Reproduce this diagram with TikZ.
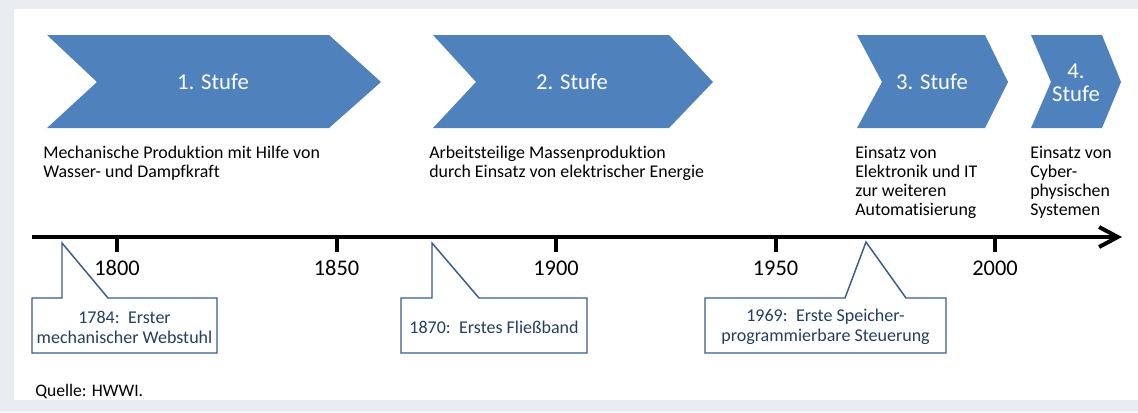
\documentclass[tikz,border=0pt]{standalone}
\usepackage{fontspec}
\setmainfont{Carlito}[Ligatures=NoCommon]
\usetikzlibrary{arrows.meta}
\definecolor{stufe}{HTML}{4F81BD}
\definecolor{rahmen}{HTML}{385D8A}
\definecolor{notizfarbe}{HTML}{243F60}
\definecolor{hinter}{HTML}{E9EDF2}
\tikzset{
  titel/.style={text=white,align=center,font=\fontsize{17}{17.25}\selectfont},
  beschr/.style={anchor=north west,inner sep=0pt,align=left,font=\fontsize{13.4}{14.25}\selectfont},
  jahr/.style={anchor=base,inner sep=0pt,font=\fontsize{16.8}{19}\selectfont},
  notiz/.style={fill=white,draw=rahmen,line width=1.1pt},
  notiztext/.style={text=notizfarbe,align=center,inner sep=0pt,font=\fontsize{13.5}{15}\selectfont},
}
\begin{document}
\begin{tikzpicture}[x=0.75pt,y=-0.75pt]
      \useasboundingbox (0,0) rectangle (1138,412);
      \path[fill=hinter] (0,0) rectangle (1138,412);
      \path[fill=white] (14,9) rectangle (1138,400);

      \path[fill=stufe] (47,35) -- (329,35) -- (381,82) -- (329,128) -- (47,128) -- (97,82) -- cycle;
      \path[fill=stufe] (433,35) -- (669,35) -- (713,82) -- (669,128) -- (433,128) -- (476,82) -- cycle;
      \path[fill=stufe] (857,35) -- (985,35) -- (1008,82) -- (985,128) -- (857,128) -- (882,82) -- cycle;
      \path[fill=stufe] (1031,35) -- (1102,35) -- (1121,82) -- (1102,128) -- (1031,128) -- (1051,82) -- cycle;
      \node[titel] (stufe1) at (213,82) {1. Stufe};
      \node[titel] (stufe2) at (572,82) {2. Stufe};
      \node[titel] (stufe3) at (932,82) {3. Stufe};
      \node[titel] (stufe4) at (1076,83) {4.\\Stufe};

      \node[beschr] (text1) at (43,146) {Mechanische Produktion mit Hilfe von\\Wasser- und Dampfkraft};
      \node[beschr] (text2) at (429,146) {Arbeitsteilige Massenproduktion\\durch Einsatz von elektrischer Energie};
      \node[beschr] (text3) at (855,146) {Einsatz von\\Elektronik und IT\\zur weiteren\\Automatisierung};
      \node[beschr] (text4) at (1030,146) {Einsatz von\\Cyber-\\physischen\\Systemen};

      \coordinate (start) at (32,237);
      \coordinate (ende) at (1122,237);
      \draw[line width=3pt,-{Straight Barb[length=14pt,width=15pt]}] (start) -- (ende);
      \foreach \j in {1800,1850,1900,1950,2000}{
        \draw[line width=3pt] ({117+(\j-1800)*4.39},237) -- ++(0,15);
        \node[jahr] (jahr\j) at ({117+(\j-1800)*4.39},275) {\j};
      }

      \path[notiz] (32,298) -- (62,298) -- (62,243) -- (108,298) -- (217,298) -- (217,353) -- (32,353) -- cycle;
      \path[notiz] (401,298) -- (432,298) -- (432,243) -- (479,298) -- (587,298) -- (587,353) -- (401,353) -- cycle;
      \path[notiz] (705,298) -- (845,298) -- (866,242) -- (906,298) -- (946,298) -- (946,353) -- (705,353) -- cycle;
      \node[notiztext] (notiz1) at (124.5,327) {1784:\, Erster\\mechanischer Webstuhl};
      \node[notiztext] (notiz2) at (494,327) {1870:\, Erstes Fließband};
      \node[notiztext] (notiz3) at (825.5,327) {1969:\, Erste Speicher-\\programmierbare Steuerung};

      \node[anchor=base west,inner sep=0pt,font=\fontsize{13.2}{14}\selectfont] (quelle) at (35,396) {Quelle: HWWI.};
\end{tikzpicture}
\end{document}
